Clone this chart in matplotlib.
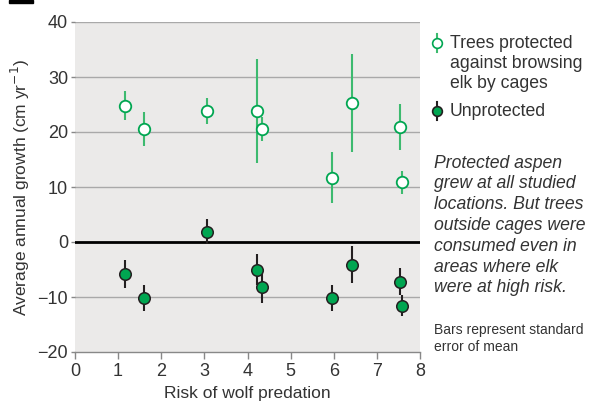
import numpy as np
import matplotlib.pyplot as plt
from matplotlib.lines import Line2D
from matplotlib.patches import Rectangle

plt.rcParams['font.family'] = ['Liberation Sans', 'DejaVu Sans']

# risk of wolf predation at each site
risk = [1.17, 1.59, 3.05, 4.23, 4.33, 5.95, 6.43, 7.53, 7.58]

# caged (protected) trees
prot_mean = [24.8, 20.5, 23.8, 23.8, 20.5, 11.7, 25.3, 20.9, 10.9]
prot_se = [2.6, 3.1, 2.4, 9.5, 2.2, 4.6, 8.9, 4.2, 2.1]

# unprotected trees
unprot_mean = [-5.8, -10.2, 1.9, -5.0, -8.2, -10.2, -4.1, -7.2, -11.6]
unprot_se = [2.5, 2.4, 2.2, 2.9, 2.9, 2.4, 3.3, 2.5, 1.9]

legend_lines = ['Trees protected', 'against browsing', 'elk by cages']
note_lines = ['Protected aspen', 'grew at all studied', 'locations. But trees',
              'outside cages were', 'consumed even in', 'areas where elk',
              'were at high risk.']
bars_lines = ['Bars represent standard', 'error of mean']

green = '#00a651'
light_green = '#3dba6f'
dark = '#231f20'
txt = '#333333'
grid_col = '#a9a9a9'
W, H = 598, 405

fig = plt.figure(figsize=(W / 100, H / 100), dpi=100)
ax = fig.add_axes([75 / W, 1 - 352 / H, 345 / W, 330 / H])
ax.set_facecolor('#ebeae9')

for y in [-10, 10, 20, 30, 40]:
    ax.axhline(y, color=grid_col, lw=1.0, zorder=1)
ax.axhline(0, color='black', lw=2.0, zorder=2)

ax.errorbar(risk, prot_mean, yerr=prot_se, fmt='none', ecolor=light_green,
            elinewidth=1.5, capsize=0, zorder=3)
ax.plot(risk, prot_mean, 'o', ms=8.3, mfc='white', mec=green, mew=1.3,
        zorder=4, clip_on=False)

ax.errorbar(risk, unprot_mean, yerr=unprot_se, fmt='none', ecolor=dark,
            elinewidth=1.5, capsize=0, zorder=3)
ax.plot(risk, unprot_mean, 'o', ms=8.3, mfc=green, mec=dark, mew=1.1,
        zorder=4, clip_on=False)

ax.set_xlim(0, 8)
ax.set_ylim(-20, 40)
ax.set_xticks(range(0, 9))
ax.set_yticks(range(-20, 41, 10))
ax.set_yticklabels(['\u221220', '\u221210', '0', '10', '20', '30', '40'])

for s in ['top', 'right', 'left']:
    ax.spines[s].set_visible(False)
ax.spines['bottom'].set_color('#888888')
ax.spines['bottom'].set_linewidth(1.0)
ax.tick_params(axis='x', direction='out', length=5, width=1, color='#888888',
               labelsize=13, labelcolor=txt, pad=3)
ax.tick_params(axis='y', direction='out', length=3, width=1, color='#888888',
               labelsize=13, labelcolor=txt, pad=2)

ax.set_xlabel('Risk of wolf predation', fontsize=12.5, color=txt, labelpad=4)
ax.set_ylabel('Average annual growth (cm yr$^{-1}$)', fontsize=12.5,
              color=txt, labelpad=4)


def put_lines(lines, x, y0, step, **kw):
    for i, s in enumerate(lines):
        fig.text(x / W, 1 - (y0 + i * step) / H, s, va='center', ha='left',
                 color=txt, **kw)


# legend keys drawn in figure coordinates
def key(ypix, face, edge, bar):
    x = 437 / W
    y = 1 - ypix / H
    fig.add_artist(Line2D([x, x], [y - 9 / H, y + 9 / H], color=bar, lw=1.5))
    fig.add_artist(Line2D([x], [y], marker='o', ms=7, mfc=face, mec=edge, mew=1.2))


key(43, 'white', green, light_green)
key(111, green, dark, dark)

put_lines(legend_lines, 450, 44, 20, fontsize=12.7)
put_lines(['Unprotected'], 450, 111, 20, fontsize=12.7)
put_lines(note_lines, 434, 163, 20.8, fontsize=12.7, style='italic')
put_lines(bars_lines, 434, 330, 17, fontsize=10)

# heading key mark at the very top
fig.add_artist(Rectangle((9 / W, 1 - 3 / H), 24 / W, 3 / H,
                         color='black', transform=fig.transFigure))

fig.savefig('out.png', dpi=100)
